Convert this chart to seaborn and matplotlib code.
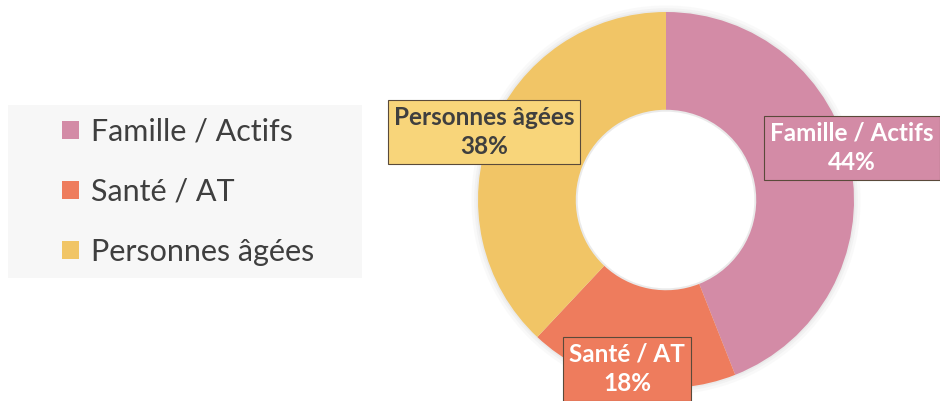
import matplotlib
matplotlib.use("Agg")
import matplotlib.pyplot as plt
import seaborn as sns
from matplotlib.patches import Rectangle, Patch

# DATA
categories = ["Famille / Actifs", "Santé / AT", "Personnes âgées"]
shares     = [44, 18, 38]
colors     = ["#D38BA6", "#EE7C5D", "#F1C566"]
box_colors = ["#D38BA6", "#EE7C5D", "#F8D57A"]
text_cols  = ["white", "white", "#3F3F3F"]
label_pos  = [(852, 148), (627, 369), (484, 132)]   # pixel centres of labels

W, H = 940, 401

sns.set_theme(style="white")
plt.rcParams["font.family"] = ["Lato", "DejaVu Sans"]

fig = plt.figure(figsize=(W / 100, H / 100), dpi=100)
fig.patch.set_facecolor("white")

# DONUT
R = 188
cx, cy = 666, 200
ax = fig.add_axes([(cx - R) / W, (H - cy - R) / H, 2 * R / W, 2 * R / H])
pal = sns.color_palette(colors)

# soft shadow
for k, a in zip([1.035, 1.02, 1.008], [0.05, 0.07, 0.09]):
    ax.pie([1], radius=k, colors=["#9a9a9a"], startangle=90,
           wedgeprops=dict(width=k - 0.47, alpha=a, linewidth=0))

ax.pie(shares, colors=pal, startangle=90, counterclock=False,
       wedgeprops=dict(width=0.52, linewidth=0))
ax.set_xlim(-1, 1)
ax.set_ylim(-1, 1)
ax.set_aspect("equal")
ax.axis("off")

# DATA LABELS
for cat, val, bc, tc, (px, py) in zip(categories, shares, box_colors, text_cols, label_pos):
    fig.text(px / W, 1 - py / H, f"{cat}\n{val}%", ha="center", va="center",
             fontsize=17.5, fontweight="bold", color=tc, linespacing=1.35,
             bbox=dict(boxstyle="square,pad=0.25", facecolor=bc,
                       edgecolor="#5a4a3a", linewidth=0.8))

# LEGEND
fig.patches.append(Rectangle((8 / W, 1 - 278 / H), 354 / W, 173 / H,
                             transform=fig.transFigure, facecolor="#F7F7F7",
                             edgecolor="none", zorder=0))
handles = [Patch(facecolor=c, edgecolor="none") for c in pal]
fig.legend(handles, categories, loc="center left",
           bbox_to_anchor=(62 / W, 1 - 192 / H), frameon=False,
           borderpad=0, borderaxespad=0,
           fontsize=22, labelcolor="#3F3F3F", handlelength=0.55,
           handleheight=0.55, handletextpad=0.4, labelspacing=1.05)

fig.savefig("out.png", dpi=100)
